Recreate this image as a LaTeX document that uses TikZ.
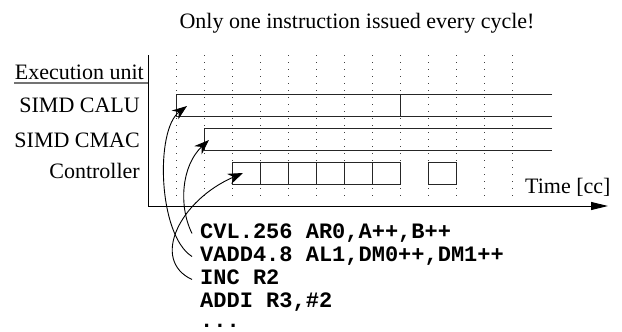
\documentclass[tikz,border=0pt]{standalone}
\usepackage{fontspec}
\setmainfont{Liberation Serif}
\setmonofont{Liberation Mono}
\usetikzlibrary{arrows.meta, positioning}
\newcommand{\diagsize}{\fontsize{22}{26}\selectfont}
\tikzset{
	lbl/.style   ={anchor=base east, inner sep=0pt},
	instr/.style ={anchor=base west, inner xsep=8pt, inner ysep=0pt, text height=16pt, text depth=7pt, font=\diagsize\ttfamily\bfseries},
	slot/.style  ={rectangle, draw=black!85, line width=0.9pt, minimum width=28pt, minimum height=22pt, inner sep=0pt},
	bar/.style   ={draw=black!85, line width=0.9pt},
	tick/.style  ={black!75, line width=0.8pt, dash pattern=on 1pt off 6pt},
	axis/.style  ={line width=1pt, -{Triangle[length=17pt, width=8pt]}},
	issue/.style ={line width=0.9pt, -{Stealth[length=15pt, width=11pt]}},
}

\begin{document}
\begin{tikzpicture}[x=1pt, y=-1pt, font=\diagsize]
	\useasboundingbox (0,0) rectangle (622,332);
	\node[anchor=base] (title) at (357,28) {Only one instruction issued every cycle!};
	% time grid
	\foreach \k in {0,...,12}
		\draw[tick] (176+28*\k,55) -- (176+28*\k,200);
	\coordinate (o) at (148,206);
	\draw[axis] (148,55) -- (o) -- (608,206);
	\node[anchor=base west, inner sep=0pt] (time) at (525,193) {Time [cc]};
	% unit labels
	\node[lbl] (unit) at (144,79) {Execution unit};
	\draw[line width=1.2pt, black!55] (14,83) -- (148,83);
	\node[lbl] (alu) at (140,112) {SIMD CALU};
	\node[lbl] (mac) at (140,147) {SIMD CMAC};
	\node[lbl] (ctrl) at (140,178) {Controller};
	% busy units
	\draw[bar] (552,94) -- (176,94) -- (176,116) -- (552,116);
	\draw[bar] (400,94) -- (400,116);
	\draw[bar] (552,128) -- (204,128) -- (204,150) -- (552,150);
	\foreach \k in {0,...,5}
		\node[slot] (c\k) at (246+28*\k,173) {};
	\node[slot] (c7) at (442,173) {};
	\coordinate (aluIn) at (187,106);
	\coordinate (macIn) at (209,140);
	\coordinate (ctrlIn) at (243,173);
	% program
	\node[instr] (i1) at (192,238) {CVL.256 AR0,A++,B++};
	\node[instr] (i2) at (192,261) {VADD4.8 AL1,DM0++,DM1++};
	\node[instr] (i3) at (192,284) {INC R2};
	\node[instr] (i4) at (192,307) {ADDI R3,\#2};
	\node[instr, text height=5pt, text depth=0pt] (i5) at (192,327) {...};
	\draw[issue] (i2.west) .. controls (158,235) and (155,130) .. (aluIn);
	\draw[issue] (i1.west) .. controls (178,205) and (182,165) .. (macIn);
	\draw[issue] (i3.west) .. controls (150,260) and (180,200) .. (ctrlIn);
\end{tikzpicture}
\end{document}
